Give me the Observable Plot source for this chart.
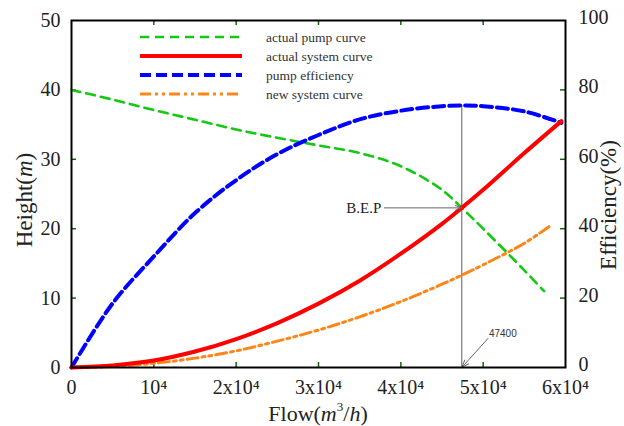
<!DOCTYPE html>
<html><head><meta charset="utf-8">
<script src="https://cdn.jsdelivr.net/npm/d3@7"></script>
<script src="https://cdn.jsdelivr.net/npm/@observablehq/plot@0.6"></script>
<style>body{margin:0;background:#fff} svg{display:block}</style>
</head><body><div id="chart"></div>
<script>
// ---- data (flow in m3/h) ----
const pumpFlow = [0, 5000, 10000, 15000, 20000, 25000, 30000, 35000, 40000, 45000, 47400, 50000, 55000, 57400];
const pumpHead = [40, 38.6, 37.1, 35.7, 34.3, 33.1, 32.0, 30.9, 29.0, 25.6, 23.0, 20.0, 14.0, 11.0];

const sysFlow = [0, 5000, 10000, 15000, 20000, 25000, 30000, 35000, 40000, 45000, 47400, 50000, 55000, 59500];
const sysHead = [0, 0.3, 1.0, 2.3, 4.1, 6.4, 9.2, 12.5, 16.4, 20.7, 23.0, 25.6, 30.9, 35.5];

const effFlow = [0, 5000, 10000, 15000, 20000, 25000, 30000, 35000, 40000, 45000, 48000, 50000, 55000, 59500];
const effPct  = [0, 18.5, 32, 44.5, 54, 61.5, 67, 71.5, 74, 75.3, 75.5, 75.3, 73.8, 70.5];

const newFlow = [0, 5000, 10000, 15000, 20000, 25000, 30000, 35000, 40000, 45000, 47400, 50000, 55000, 58000];
const newHead = [0, 0.15, 0.6, 1.35, 2.4, 3.8, 5.4, 7.3, 9.5, 12.0, 13.3, 14.8, 17.9, 20.3];

const xTicks = [0, 10000, 20000, 30000, 40000, 50000, 60000];
const xTickLabels = ["0", "10\u2074", "2x10\u2074", "3x10\u2074", "4x10\u2074", "5x10\u2074", "6x10\u2074"];
const yTicks = [0, 10, 20, 30, 40, 50];
const effTicks = [0, 20, 40, 60, 80, 100];
const innerX = [10000, 20000, 30000, 40000, 50000];
const innerY = [10, 20, 30, 40];

const bepFlow = 47400, bepHead = 23.0, effPeak = 75.5;
const legendNames = ["actual pump curve", "actual system curve", "pump efficiency", "new system curve"];

// ---- layout ----
const W = 624, H = 426, mL = 71, mR = 59, mT = 20, mB = 59;
const fw = W - mL - mR, fh = H - mT - mB;
const serif = "Liberation Serif, Times New Roman, serif";
const sans = "Liberation Sans, Arial, sans-serif";

const colors = {pump: "#14c814", sys: "#ff0000", eff: "#0000ff", neu: "#ff8616"};
const tickColor = "#0a6a0a";

const rows = (xs, ys) => xs.map((x, i) => ({x, y: ys[i]}));
const pump = rows(pumpFlow, pumpHead);
const sys = rows(sysFlow, sysHead);
const eff = rows(effFlow, effPct.map(v => v / 2)); // efficiency mapped onto the 0-50 scale
const neu = rows(newFlow, newHead);

const chart = Plot.plot({
  width: W, height: H,
  marginLeft: mL, marginRight: mR, marginTop: mT, marginBottom: mB,
  style: {fontFamily: serif, fontSize: "20px", color: "#222", background: "#fff"},
  x: {domain: [0, 60000]},
  y: {domain: [0, 50]},
  marks: [
    Plot.axisX(xTicks, {tickSize: 0, tickPadding: 12, tickFormat: d => xTickLabels[xTicks.indexOf(d)], label: null, fontSize: 20, fontFamily: serif}),
    Plot.axisY(yTicks, {anchor: "left", tickSize: 0, tickPadding: 11, label: null, fontSize: 20, fontFamily: serif}),
    Plot.axisY(effTicks.map(v => v / 2), {anchor: "right", tickSize: 0, tickPadding: 13, dy: -3, tickFormat: d => String(d * 2), label: null, fontSize: 20, fontFamily: serif}),
    // inward ticks
    Plot.tickY(innerY, {y: d => d, stroke: tickColor, strokeWidth: 1.5, insetRight: fw - 5}),
    Plot.tickY(innerY, {y: d => d, stroke: tickColor, strokeWidth: 1.5, insetLeft: fw - 5}),
    Plot.tickX(innerX, {x: d => d, stroke: tickColor, strokeWidth: 1.5, insetTop: fh - 5}),
    Plot.tickX(innerX, {x: d => d, stroke: tickColor, strokeWidth: 1.5, insetBottom: fh - 5}),
    // BEP vertical line
    Plot.ruleX([bepFlow], {y1: 0, y2: effPeak / 2, stroke: "#777", strokeWidth: 1.2}),
    // curves
    Plot.line(pump, {x: "x", y: "y", stroke: colors.pump, strokeWidth: 2.6, strokeDasharray: "9,6", curve: "catmull-rom"}),
    Plot.line(eff, {x: "x", y: "y", stroke: colors.eff, strokeWidth: 4, strokeDasharray: "11,5", curve: "catmull-rom"}),
    Plot.line(neu, {x: "x", y: "y", stroke: colors.neu, strokeWidth: 3, strokeDasharray: "11,4,3,4,3,4", curve: "catmull-rom"}),
    Plot.line(sys, {x: "x", y: "y", stroke: colors.sys, strokeWidth: 4, curve: "catmull-rom"}),
    // annotations
    Plot.arrow([{x1: 38000, x2: bepFlow, y: bepHead}], {x1: "x1", x2: "x2", y1: "y", y2: "y", stroke: "#666", strokeWidth: 1, headLength: 10, headAngle: 40}),
    Plot.text(["B.E.P"], {x: 38000, y: bepHead, text: d => d, textAnchor: "end", dx: -3, fontSize: 15, fontFamily: serif, fill: "#222"}),
    Plot.arrow([{x1: 50600, y1: 4.2, x2: bepFlow, y2: 0}], {x1: "x1", y1: "y1", x2: "x2", y2: "y2", stroke: "#666", strokeWidth: 1, headLength: 12, headAngle: 40}),
    Plot.text(["47400"], {x: 50700, y: 4.8, text: d => d, textAnchor: "start", fontSize: 10, fontFamily: sans, fill: "#333"}),
    Plot.frame({stroke: "#000", strokeWidth: 2})
  ]
});

const svg = d3.select(chart);
svg.attr("font-family", serif);

// axis titles
const xl = svg.append("text").attr("x", 318).attr("y", 421).attr("text-anchor", "middle")
  .attr("font-family", serif).attr("font-size", 22).attr("fill", "#222");
xl.append("tspan").text("Flow(");
xl.append("tspan").attr("font-style", "italic").text("m");
xl.append("tspan").attr("font-size", 13).attr("dy", -10).text("3");
xl.append("tspan").attr("dy", 10).text("/");
xl.append("tspan").attr("font-style", "italic").text("h");
xl.append("tspan").text(")");

const yl = svg.append("text").attr("transform", "translate(32,200) rotate(-90)").attr("text-anchor", "middle")
  .attr("font-family", serif).attr("font-size", 23).attr("fill", "#222");
yl.append("tspan").text("Height(");
yl.append("tspan").attr("font-style", "italic").text("m");
yl.append("tspan").text(")");

svg.append("text").attr("transform", "translate(616,205) rotate(-90)").attr("text-anchor", "middle")
  .attr("font-family", serif).attr("font-size", 23).attr("fill", "#222").text("Efficiency(%)");

// legend
const leg = [
  {c: colors.pump, w: 2.6, d: "9,6"},
  {c: colors.sys, w: 4, d: null},
  {c: colors.eff, w: 4, d: "11,5"},
  {c: colors.neu, w: 3, d: "11,4,3,4,3,4"}
];
leg.forEach((l, i) => {
  const y = 37 + i * 19;
  svg.append("line").attr("x1", 140).attr("x2", 242).attr("y1", y).attr("y2", y)
    .attr("stroke", l.c).attr("stroke-width", l.w).attr("stroke-dasharray", l.d);
  svg.append("text").attr("x", 266).attr("y", y).attr("dy", "0.35em").attr("text-anchor", "start")
    .attr("font-family", serif).attr("font-size", 13.5).attr("fill", "#333").text(legendNames[i]);
});

document.getElementById("chart").appendChild(chart);
</script>
</body></html>
